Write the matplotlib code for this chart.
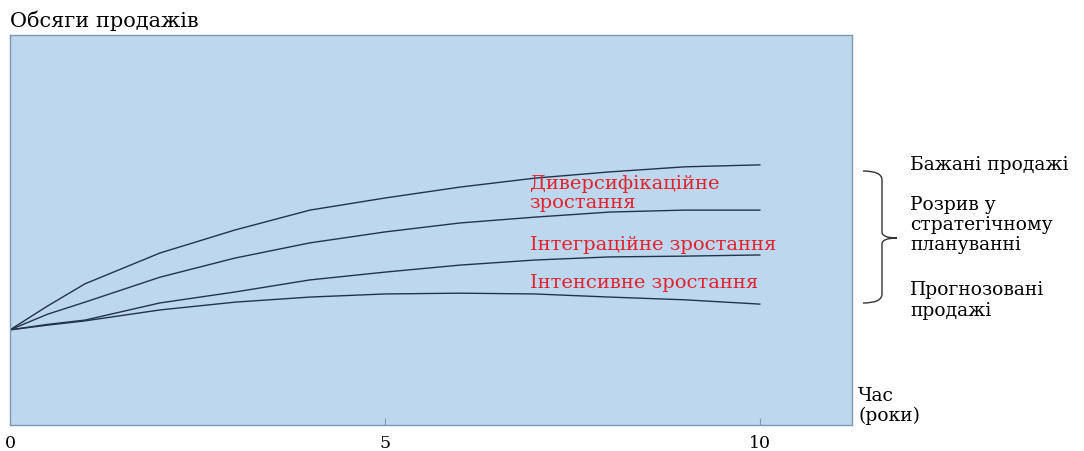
import matplotlib.pyplot as plt
from matplotlib.path import Path
from matplotlib.patches import PathPatch

plt.rcParams['font.family'] = ['DejaVu Serif']

# years and sales volume (relative units)
years = [0, 0.5, 1, 2, 3, 4, 5, 6, 7, 8, 9, 10]
desired = [24.4, 30.5, 36.2, 44.1, 50.0, 55.1, 58.2, 61.0, 63.3, 64.9, 66.2, 66.7]
integr_top = [24.4, 28.4, 31.5, 37.9, 42.8, 46.7, 49.5, 51.8, 53.3, 54.6, 55.1, 55.1]
intens_top = [24.4, 25.8, 26.9, 31.3, 34.1, 37.2, 39.2, 41.0, 42.3, 43.1, 43.3, 43.6]
forecast = [24.4, 25.6, 26.7, 29.5, 31.5, 32.8, 33.6, 33.8, 33.6, 32.8, 32.1, 31.0]

xticks = [0, 5, 10]
xticklabels = ['0', '5', '10']

W, H = 1084, 451
fig = plt.figure(figsize=(W / 100, H / 100), dpi=100)

# main plot area
ax = fig.add_axes([10 / W, 1 - 425 / H, 842 / W, 390 / H])
ax.set_facecolor('#bdd7ee')
for s in ax.spines.values():
    s.set_color('#7f99b3')
    s.set_linewidth(1.0)

line_col = '#23344a'
for series in (desired, integr_top, intens_top, forecast):
    ax.plot(years, series, color=line_col, lw=1.0)

ax.set_xlim(0, 11.23)
ax.set_ylim(0, 100)
ax.set_yticks([])
ax.set_xticks(xticks)
ax.set_xticklabels(xticklabels, fontsize=12.5)
ax.tick_params(axis='x', direction='in', length=5, color='#7f99b3', pad=7)

red = '#e3202b'
fs_red = 14
ax.text(6.93, 61.8, 'Диверсифікаційне', color=red, fontsize=fs_red, va='center')
ax.text(6.93, 56.9, 'зростання', color=red, fontsize=fs_red, va='center')
ax.text(6.93, 46.2, 'Інтеграційне зростання', color=red, fontsize=fs_red, va='center')
ax.text(6.93, 36.4, 'Інтенсивне зростання', color=red, fontsize=fs_red, va='center')

# overlay in pixel coordinates for the outside annotations
ov = fig.add_axes([0, 0, 1, 1], facecolor='none')
ov.set_xlim(0, W)
ov.set_ylim(H, 0)
ov.axis('off')

ov.text(10, 21, 'Обсяги продажів', fontsize=15, va='center', ha='left')

right_txt = [
    ('Бажані продажі', 165),
    ('Розрив у', 205),
    ('стратегічному', 225),
    ('плануванні', 245),
    ('Прогнозовані', 290),
    ('продажі', 311),
]
for t, y in right_txt:
    ov.text(910, y, t, fontsize=13.5, va='center', ha='left')

ov.text(858, 396, 'Час', fontsize=13.5, va='center', ha='left')
ov.text(858, 416, '(роки)', fontsize=13.5, va='center', ha='left')

# curly brace
verts = [(863, 171), (882, 171), (882, 180), (882, 180),
         (882, 232), (882, 238), (897, 238), (882, 238),
         (882, 244), (882, 294), (882, 294),
         (882, 303), (863, 303)]
codes = [Path.MOVETO, Path.CURVE3, Path.CURVE3, Path.LINETO,
         Path.LINETO, Path.CURVE3, Path.CURVE3, Path.CURVE3,
         Path.CURVE3, Path.LINETO, Path.LINETO,
         Path.CURVE3, Path.CURVE3]
ov.add_patch(PathPatch(Path(verts, codes), fill=False, edgecolor='#333333', lw=1.0))

fig.savefig('out.png', dpi=100)
